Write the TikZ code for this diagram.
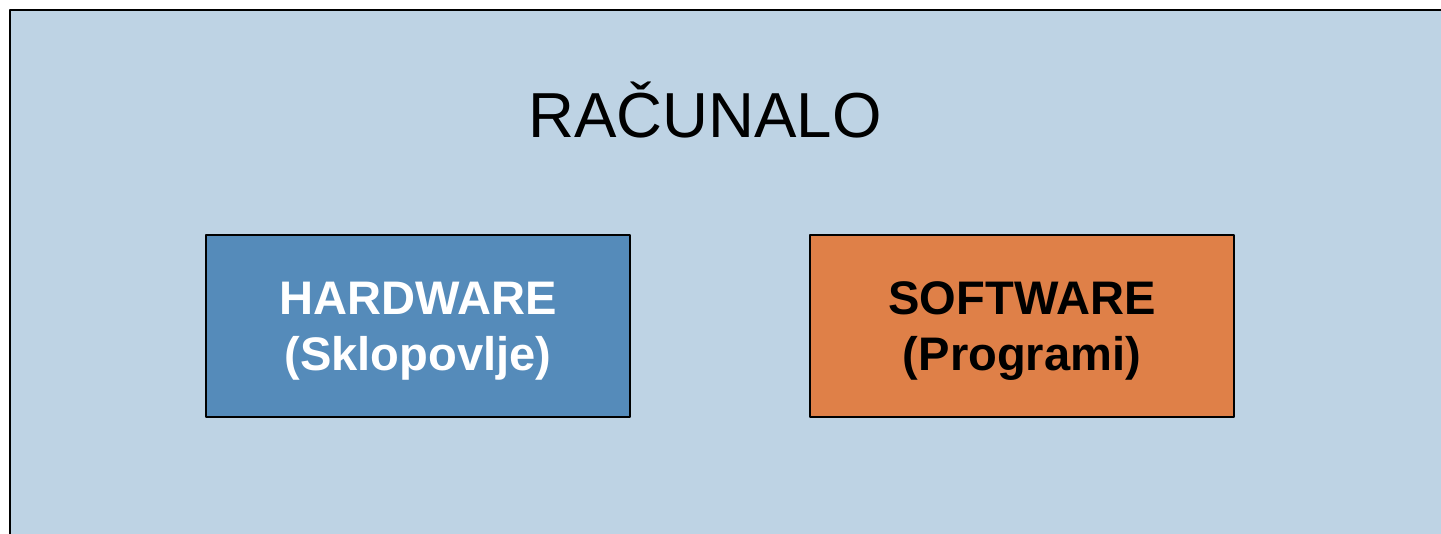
\documentclass[tikz,border=0pt]{standalone}
\usepackage{fontspec}
\setmainfont{Liberation Sans}
\usepackage{xcolor}
\definecolor{pozadina}{RGB}{190,211,228}
\definecolor{plava}{RGB}{85,139,186}
\definecolor{narancasta}{RGB}{223,128,72}

\begin{document}
\begin{tikzpicture}[line cap=round,line join=round,x=1.0cm,y=1.0cm,
    kutija/.style={draw=black, line width=0.6pt, minimum width=4.24cm, minimum height=1.82cm, inner sep=0pt},
    natpis/.style={align=center, font=\fontsize{13.4pt}{15.9pt}\selectfont\bfseries, inner sep=0pt}]

    \useasboundingbox (0,0) rectangle (14.41,5.33);
    \clip (0,0) rectangle (14.41,5.33);

    %\draw [xstep=1.0cm,ystep=1.0cm] (0,0) grid (14,5);
    \fill [pozadina] (0.10,-0.5) rectangle (15,5.23);
    \draw [line width=0.8pt, line cap=butt] (0.10,-0.5) -- (0.10,5.23) -- (15,5.23);

    \node (racunalo) at (7.05,3.96) [anchor=base, inner sep=0pt,
        font=\fontsize{18.1pt}{22pt}\selectfont] {RAČUNALO};

    \node (hardware) at (4.18,2.07) [kutija, fill=plava] {};
    \node (hwnatpis) at ([yshift=-0.05cm]hardware.center) [natpis, text=white] {HARDWARE\\(Sklopovlje)};

    \node (software) at (10.22,2.07) [kutija, fill=narancasta] {};
    \node (swnatpis) at ([yshift=-0.05cm]software.center) [natpis, text=black] {SOFTWARE\\(Programi)};
\end{tikzpicture}
\end{document}
